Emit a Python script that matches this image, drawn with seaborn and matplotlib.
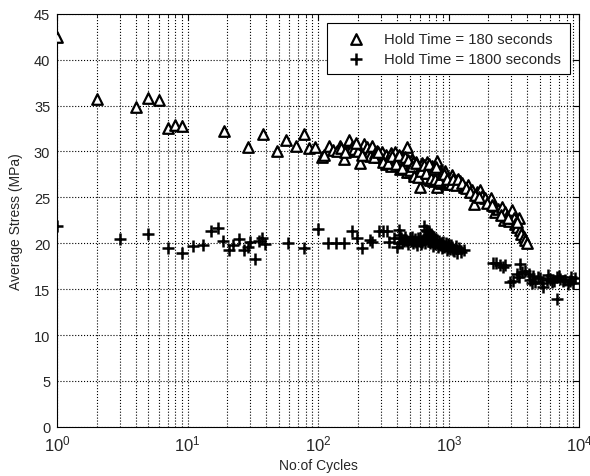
import numpy as np
import pandas as pd
import seaborn as sns
import matplotlib
matplotlib.use("Agg")
import matplotlib.pyplot as plt
from matplotlib.ticker import LogLocator

# Hold time = 180 s (triangles)
cycles_180 = [1, 2, 4, 5, 6, 7, 8, 9, 19, 29, 38, 48, 57, 68, 78, 85, 95,
              107, 110, 120, 130, 147, 156, 165, 171, 180, 187, 200, 210, 222,
              230, 236, 243, 250, 258, 270, 280, 290, 300, 308, 320, 330, 345,
              360, 375, 389, 400, 410, 425, 440, 455, 470, 478, 490, 507, 520,
              535, 550, 565, 580, 595, 605, 620, 640, 660, 681, 700, 720, 740,
              760, 780, 811, 811, 830, 850, 870, 890, 910, 940, 960, 990, 1020,
              1060, 1100, 1150, 1225, 1298, 1400, 1505, 1550, 1645, 1743, 1800,
              1905, 2020, 2100, 2205, 2270, 2400, 2556, 2630, 2700, 2790, 2900,
              3050, 3150, 3235, 3340, 3430, 3530, 3600, 3740, 3850, 3975,
              330, 360, 390, 420, 450, 480, 510, 540, 570, 600, 630, 660, 690,
              720, 750, 780, 820, 860, 900, 950, 1000, 350, 440, 530, 620, 700,
              315, 340, 368, 395, 415, 435, 462, 485, 500, 525, 545, 560, 585,
              610, 650, 670, 710, 730, 770, 790, 800, 840, 880, 920, 970, 1040,
              1080, 1130, 1180, 1260, 140, 150, 160, 195, 215, 265, 285, 1350,
              1450, 1600, 1700, 1950, 2150, 2500, 2850, 3300]
stress_180 = [42.5, 35.7, 34.8, 35.8, 35.6, 32.6, 32.9, 32.8, 32.2, 30.5, 31.9,
              30.1, 31.3, 30.6, 31.9, 30.4, 30.5,
              29.4, 29.6, 30.6, 30.2, 30.6, 29.2, 30.0, 31.3, 30.5, 30.3, 30.0,
              28.7, 30.8, 30.2, 30.5, 29.9, 29.5, 30.6, 29.8, 30.0, 29.4, 29.7,
              29.9, 29.2, 29.6, 29.4, 29.8, 29.1, 29.9, 29.3, 28.9, 28.5, 29.5,
              28.8, 29.0, 30.5, 28.4, 27.8, 29.2, 28.6, 28.0, 28.9, 27.6, 28.3,
              26.1, 28.7, 27.4, 28.2, 28.8, 27.0, 27.8, 28.4, 26.8, 27.5, 29.0,
              26.1, 27.2, 27.9, 26.6, 27.3, 26.9, 27.9, 26.5, 27.1, 26.6, 27.4,
              26.8, 26.9, 26.8, 26.1, 26.4, 25.8, 24.3, 25.6, 25.8, 25.2, 24.9,
              24.5, 24.9, 24.1, 23.4, 23.7, 24.0, 22.5, 23.4, 23.0, 22.4, 23.6,
              22.7, 22.1, 21.8, 22.7, 21.4, 21.0, 20.7, 20.4, 20.0,
              28.6, 28.4, 28.8, 28.1, 28.3, 27.8, 28.5, 27.5, 28.2, 27.3, 27.9,
              27.1, 27.7, 26.9, 27.6, 27.0, 27.4, 26.7, 27.2, 26.9, 26.7, 29.0,
              29.2, 28.9, 28.6, 28.2,
              28.9, 28.7, 29.5, 28.6, 29.6, 28.2, 29.4, 29.1, 28.0, 28.4, 27.3,
              28.7, 27.2, 27.9, 28.5, 27.7, 28.6, 27.1, 28.1, 27.0, 28.3, 26.9,
              27.6, 27.6, 27.0, 26.5, 27.0, 26.4, 27.0, 26.6, 30.1, 30.4, 29.9,
              30.9, 29.6, 29.4, 29.9, 26.0, 25.6, 25.3, 25.0, 24.4, 24.2, 23.1,
              22.8, 22.3]

# Hold time = 1800 s (plus signs)
cycles_1800 = [1, 3, 5, 7, 9, 11, 13, 15, 17, 18.6, 20.8, 22.4, 24.8, 27,
               28.7, 30, 33, 35, 37, 39, 59, 78, 99, 119, 137, 156, 181, 198,
               216, 247, 258, 290, 313, 336, 346, 378, 401, 413, 413, 430, 450,
               470, 490, 510, 530, 550, 570, 590, 610, 630, 641, 660, 681, 700,
               721, 740, 760, 780, 800, 820, 840, 860, 880, 900, 930, 960, 990,
               1020, 1060, 1100, 1156, 1200, 1297, 520, 580, 650, 750, 870, 1000,
               2194, 2468, 2690, 3530, 3850, 2960, 3120, 3430, 4320, 4850, 5300,
               5960, 6710, 6710, 7540, 8240, 8990, 4090, 5000, 6200, 7150, 8540,
               9200, 4600, 5600,
               420, 440, 460, 480, 500, 540, 560, 600, 620, 670, 690, 710, 730,
               770, 790, 810, 850, 890, 920, 950, 980, 1040, 1080, 1130, 1250,
               665, 700, 730, 2300, 2580, 3300, 3650, 4200, 4450, 5150, 5700,
               6400, 7000, 7800, 8700]
stress_1800 = [21.9, 20.5, 21.0, 19.5, 18.9, 19.7, 19.8, 21.3, 21.7, 20.3,
               19.3, 19.8, 20.5, 19.3, 19.6, 20.1, 18.3, 20.2, 20.6, 19.9, 20.0,
               19.5, 21.6, 20.0, 20.0, 20.0, 21.3, 20.6, 19.5, 20.4, 20.1, 21.3,
               21.3, 21.3, 20.1, 20.6, 19.6, 21.5, 20.0, 20.6, 20.2, 20.4, 19.9,
               20.3, 20.0, 20.5, 19.8, 20.2, 19.9, 20.4, 21.9, 20.0, 21.3, 20.6,
               20.0, 20.8, 19.7, 20.4, 20.1, 19.6, 20.3, 19.9, 19.5, 20.1, 19.7,
               19.3, 19.9, 19.4, 19.6, 19.2, 18.9, 19.5, 19.3, 20.7, 20.6, 20.5,
               20.3, 20.0, 19.8,
               17.9, 17.6, 17.6, 17.7, 17.0, 15.8, 15.9, 16.3, 15.7, 16.3, 15.2,
               16.1, 16.3, 13.9, 15.9, 15.6, 15.7, 16.6, 16.2, 15.8, 16.1, 15.9,
               16.2, 15.8, 16.0,
               20.9, 20.0, 20.7, 20.3, 20.6, 20.3, 20.1, 20.6, 20.1, 20.8, 20.2,
               21.0, 20.3, 20.1, 19.9, 20.4, 19.8, 20.0, 19.6, 20.0, 19.5, 19.8,
               19.3, 19.7, 19.1, 21.4, 21.2, 21.0, 17.8, 17.4, 16.6, 16.9, 16.0,
               16.4, 15.7, 16.5, 15.9, 16.4, 16.0, 16.3]

df180 = pd.DataFrame({"cycles": cycles_180, "stress": stress_180})
df1800 = pd.DataFrame({"cycles": cycles_1800, "stress": stress_1800})

sns.set_style("white")
plt.rcParams["font.family"] = ["Liberation Sans", "DejaVu Sans"]
plt.rcParams["mathtext.fontset"] = "custom"
plt.rcParams["mathtext.rm"] = "Liberation Sans"

fig = plt.figure(figsize=(5.9, 4.77), dpi=100)
ax = fig.add_axes([0.097, 0.103, 0.885, 0.866])

sns.scatterplot(data=df180, x="cycles", y="stress", marker="^", s=58,
                facecolor="white", edgecolor="black", linewidth=1.6,
                label="Hold Time = 180 seconds", ax=ax, zorder=3)
sns.scatterplot(data=df1800, x="cycles", y="stress", marker="+", s=75,
                color="black", linewidth=1.8,
                label="Hold Time = 1800 seconds", ax=ax, zorder=3)

ax.set_xscale("log")
ax.set_xlim(1, 1e4)
ax.set_ylim(0, 45)
ax.set_yticks(range(0, 50, 5))
ax.xaxis.set_minor_locator(LogLocator(base=10, subs=np.arange(2, 10)))
ax.grid(True, which="major", linestyle=":", color="black", linewidth=0.8)
ax.grid(True, which="minor", axis="x", linestyle=":", color="black", linewidth=0.8)
ax.tick_params(which="both", direction="in", top=True, right=True,
               labelsize=10.5, color="black")
ax.tick_params(axis="x", which="major", labelsize=12, pad=5)
ax.tick_params(axis="y", pad=5)
ax.tick_params(which="major", length=4)
ax.tick_params(which="minor", length=2)
for sp in ax.spines.values():
    sp.set_color("black")
    sp.set_linewidth(0.8)

ax.set_xlabel("No:of Cycles", fontsize=10, labelpad=3)
ax.set_ylabel("Average Stress (MPa)", fontsize=10, labelpad=8)

leg = ax.legend(loc="upper right", fontsize=10.7, frameon=True, fancybox=False,
                framealpha=1, edgecolor="black", borderaxespad=0.65,
                handlelength=2.6, handletextpad=0.6, borderpad=0.6,
                labelspacing=0.35)
leg.get_frame().set_linewidth(0.8)

fig.savefig("out.png", dpi=100)
